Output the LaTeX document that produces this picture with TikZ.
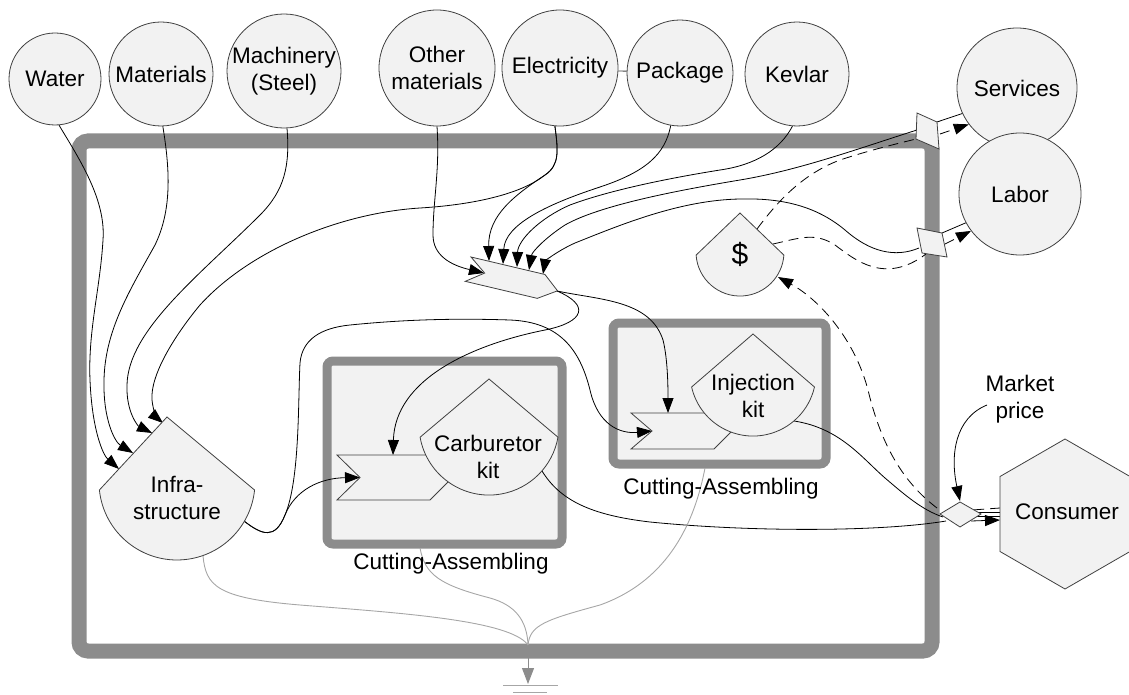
\documentclass[tikz,border=0pt]{standalone}
\usepackage{fontspec}
\setmainfont{Liberation Sans}
\usetikzlibrary{arrows.meta}
\definecolor{shapefill}{HTML}{F2F2F2}
\definecolor{framegray}{HTML}{8C8C8C}
\definecolor{sinkgray}{HTML}{A6A6A6}
\definecolor{edgegray}{HTML}{404040}
\begin{document}
\begin{tikzpicture}[x=1pt,y=-1pt,
  font=\fontsize{22.5}{27}\selectfont,
  res/.style={circle,draw=edgegray,fill=shapefill,line width=0.8pt,inner sep=0pt,minimum size=#1,align=center},
  shp/.style={draw=edgegray,fill=shapefill,line width=0.8pt},
  con/.style={draw=black,line width=0.8pt},
  arr/.style={con,-{Triangle[length=15pt,width=11pt]}},
  dsh/.style={con,dash pattern=on 10pt off 6pt},
  darr/.style={dsh,-{Triangle[length=15pt,width=11pt]}},
  snk/.style={draw=sinkgray,line width=0.9pt},
  lbl/.style={inner sep=0pt,align=center},
  bigframe/.style={draw=framegray,line width=15pt,rounded corners=9pt},
  subframe/.style={draw=framegray,fill=shapefill,line width=9pt,rounded corners=6pt}
]
\useasboundingbox (0,0) rectangle (1129,695);

% frames
\draw[bigframe] (79,141) rectangle (932,651);
\draw[subframe] (327,361) rectangle (562,544);
\draw[subframe] (613,323) rectangle (826,464);

% resource circles
\node[res=92pt]  (water)     at (55,79)   {Water};
\node[res=104pt] (materials) at (161,74)  {Materials};
\node[res=114pt] (machinery) at (284,71)  {Machinery\\(Steel)};
\node[res=116pt] (other)     at (437,68)  {Other\\materials};
\node[res=116pt] (elec)      at (560,68)  {Electricity};
\node[res=106pt] (package)   at (680,73)  {Package};
\node[res=104pt] (kevlar)    at (797,74)  {Kevlar};
\node[res=120pt] (serv)      at (1017,88) {Services};
\node[res=122pt] (labor)     at (1020,194){Labor};
\draw[con,draw=edgegray] (elec.-3) -- (package.178);

% named points
\coordinate (infraR) at (244,521);
\coordinate (flagtip) at (557,291);
\coordinate (sink) at (528,645);
\coordinate (mkL) at (940,514);

% connectors into infrastructure
\draw[arr] (water.-85) .. controls (80,160) and (106,200) .. (103,240) .. controls (100,290) and (88,330) .. (90,380) .. controls (92,430) and (103,455) .. (119,469);
\draw[arr] (materials.-88) .. controls (170,170) and (172,210) .. (155,245) .. controls (130,290) and (105,330) .. (104,380) .. controls (103,420) and (115,442) .. (133,453);
\draw[arr] (machinery.-87) .. controls (290,165) and (285,190) .. (260,215) .. controls (200,275) and (128,330) .. (127,385) .. controls (126,412) and (138,426) .. (152,433);
\draw[arr] (elec.-95) .. controls (558,150) and (560,165) .. (545,175) .. controls (520,195) and (470,205) .. (420,208) .. controls (340,213) and (250,250) .. (200,305) .. controls (175,335) and (150,375) .. (152,400) .. controls (153,410) and (157,418) .. (163,423);

% connectors into central flag
\draw[arr] (elec.-95) .. controls (558,150) and (560,165) .. (545,175) .. controls (515,195) and (488,215) .. (489,261);
\draw[arr] (other.-90) .. controls (440,170) and (433,200) .. (433,235) .. controls (433,255) and (450,265) .. (484,273);
\draw[arr] (package.-100) .. controls (665,155) and (645,172) .. (600,187) .. controls (545,205) and (505,225) .. (503,264);
\draw[arr] (kevlar.-95) .. controls (780,150) and (755,165) .. (720,170) .. controls (670,178) and (610,190) .. (570,205) .. controls (540,218) and (518,240) .. (517,267);
\draw[arr] (917,130) .. controls (860,148) and (800,170) .. (740,180) .. controls (680,190) and (600,205) .. (565,225) .. controls (545,238) and (532,252) .. (529,270);
\draw[arr] (919,248) .. controls (895,258) and (870,252) .. (845,230) .. controls (815,205) and (780,198) .. (740,199) .. controls (680,200) and (620,225) .. (575,243) .. controls (555,252) and (545,262) .. (543,274);

% services / labor exchanges
\draw[con] (937,122) -- (serv.205);
\draw[darr] (940,134) -- (serv.217);
\draw[con] (942,233) -- (labor.208);
\draw[darr] (945,244) -- (labor.217);
\draw[dsh] (757,229) .. controls (775,205) and (800,175) .. (840,160) .. controls (870,150) and (900,143) .. (916,139);
\draw[dsh] (773,244) .. controls (800,238) and (815,232) .. (835,245) .. controls (855,260) and (885,285) .. (926,254);

% market
\draw[darr] (937,508) .. controls (900,480) and (880,440) .. (868,390) .. controls (855,340) and (820,300) .. (778,277);
\draw[arr] (987,405) .. controls (955,418) and (950,455) .. (960,501);
\draw[con] (794,421) .. controls (840,428) and (862,458) .. (885,478) .. controls (905,495) and (922,510) .. (943,517);
\draw[con] (542,471) .. controls (560,500) and (590,515) .. (650,522) .. controls (750,532) and (880,532) .. (946,521);
\draw[dsh] (1000,508) -- (972,510);
\draw[con] (977,512.5) -- (1000,512.5);
\draw[con] (977,516) -- (1000,516);
\draw[arr] (971,521) -- (1000,520);

% flag outputs
\draw[arr] (flagtip) .. controls (600,300) and (650,300) .. (663,340) .. controls (668,360) and (668,390) .. (668,413);
\draw[arr] (flagtip) .. controls (590,305) and (585,322) .. (545,330) .. controls (470,345) and (395,380) .. (393,455);
\draw[arr] (infraR) .. controls (262,535) and (275,540) .. (285,515) .. controls (295,490) and (320,478) .. (360,477.5);
\draw[arr] (infraR) .. controls (262,535) and (275,540) .. (285,515) .. controls (300,480) and (298,400) .. (300,363) .. controls (302,340) and (320,328) .. (350,325) .. controls (400,320) and (450,318) .. (510,320) .. controls (560,322) and (580,350) .. (590,390) .. controls (598,425) and (620,434) .. (652,431);

% sink lines
\draw[snk] (203,556) .. controls (206,585) and (215,598) .. (300,605) .. controls (400,613) and (510,620) .. (sink);
\draw[snk] (420,548) .. controls (425,575) and (440,585) .. (490,598) .. controls (515,605) and (527,620) .. (sink);
\draw[snk] (705,468) .. controls (695,520) and (670,580) .. (600,605) .. controls (545,620) and (530,625) .. (sink);
\coordinate (ground) at (528,684);
\draw[draw=framegray,line width=1pt,-{Triangle[length=16pt,width=12pt]}] (sink) -- (ground);
\draw[draw=sinkgray,line width=1pt] (503,685) -- (558,685) (513,692) -- (547,692);

% shapes
\begin{scope}[shift={(471,257)},rotate=-13.3]
\path[shp] (0,0) -- (76,0) -- (92,13) -- (74,25) -- (0,25) -- (17,12.5) -- cycle;
\end{scope}
\path[shp] (337,455) -- (430,455) -- (452.5,477.5) -- (430,500) -- (337,500) -- (360,477.5) -- cycle;
\path[shp] (631,413) -- (714,413) -- (732,431) -- (714,449) -- (631,449) -- (652,431) -- cycle;
\path[shp] (420.1,437.2) arc[start angle=190,end angle=350,radius=70pt] -- (489,379) -- cycle;
\path[shp] (691.6,387) arc[start angle=192.8,end angle=347.2,radius=63pt] -- (753,334) -- cycle;
\path[shp] (99.4,490) arc[start angle=185.9,end angle=354.1,radius=78pt] -- (167,417) -- cycle;
\path[shp] (696.1,255.1) arc[start angle=184,end angle=356,radius=44pt] -- (740,213) -- cycle;
\path[shp] (917,113) -- (937,122) -- (939,149) -- (916,139) -- cycle;
\path[shp] (917,228) -- (942,233) -- (947,257) -- (922,253) -- cycle;
\path[shp] (940,514) -- (960,502) -- (981,514) -- (960,527) -- cycle;
\path[shp] (1065,439) -- (1130,476.5) -- (1130,551.5) -- (1065,589) -- (1000,551.5) -- (1000,476.5) -- cycle;

% labels
\node[lbl] (infra) at (177,498) {Infra-\\structure};
\node[lbl] (carb)  at (488,457) {Carburetor\\kit};
\node[lbl] (inj)   at (753,396) {Injection\\kit};
\node[lbl,font=\fontsize{30}{30}\selectfont] (money) at (740,254) {\$};
\node[lbl] (consumer) at (1067,512) {Consumer};
\node[lbl] (mprice) at (1020,399) {Market\\price};
\node[lbl] (ca1) at (451,564) {Cutting-Assembling};
\node[lbl] (ca2) at (721,489) {Cutting-Assembling};
\end{tikzpicture}
\end{document}
